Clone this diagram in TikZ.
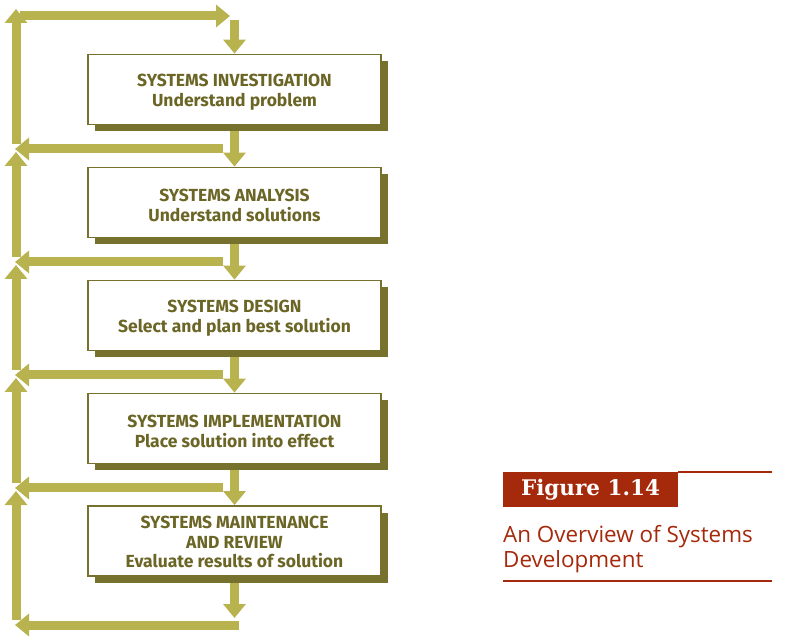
\documentclass[tikz,border=0pt]{standalone}
\usepackage{fontspec}
\newfontfamily\boxfont{Fira Sans}
\newfontfamily\capfont{Open Sans}
\newfontfamily\figfont{DejaVu Serif}
\usetikzlibrary{arrows.meta,shadows}
\definecolor{arrowol}{HTML}{B8B34F}
\definecolor{borderol}{HTML}{77712E}
\definecolor{shadowol}{HTML}{77712E}
\definecolor{textol}{HTML}{6B6526}
\definecolor{figred}{HTML}{A5290B}
\begin{document}
\begin{tikzpicture}[x=1pt,y=-1pt,
  fat/.style={draw=arrowol, line width=9pt, -{Triangle[width=22pt,length=14pt]}},
  stage/.style={draw=borderol, line width=1.8pt, fill=white, minimum width=293pt,
    minimum height=70pt, inner sep=2pt,
    drop shadow={shadow xshift=7pt, shadow yshift=-7pt, fill=shadowol, opacity=1}},
  stagetxt/.style={align=center, inner sep=0pt, text=textol,
    font=\boxfont\bfseries\fontsize{17.5}{20}\selectfont},
  rule/.style={draw=figred, line width=1.8pt}
]
\useasboundingbox (0,0) rectangle (796,644);

% stage boxes
\node[stage] (s1) at (234.5,89.5) {};
\node[stage] (s2) at (234.5,202.5) {};
\node[stage] (s3) at (234.5,315.5) {};
\node[stage] (s4) at (234.5,428.5) {};
\node[stage] (s5) at (234.5,541) {};
\node[stagetxt] (t1) at ([yshift=-3pt]s1.center) {SYSTEMS INVESTIGATION\\Understand problem};
\node[stagetxt] (t2) at ([yshift=-3pt]s2.center) {SYSTEMS ANALYSIS\\Understand solutions};
\node[stagetxt] (t3) at ([yshift=-3pt]s3.center) {SYSTEMS DESIGN\\Select and plan best solution};
\node[stagetxt] (t4) at ([yshift=-3pt]s4.center) {SYSTEMS IMPLEMENTATION\\Place solution into effect};
\node[stagetxt, font=\boxfont\bfseries\fontsize{17.5}{19.5}\selectfont] (t5) at ([yshift=-1pt]s5.center) {SYSTEMS MAINTENANCE\\AND REVIEW\\Evaluate results of solution};

% named coordinates for arrow ends
\coordinate (topL) at (20,16);
\coordinate (topR) at (230,16);
\coordinate (d0) at (234.5,20);
\coordinate (dEnd) at (234.5,618);
\coordinate (h1R) at (223,149); \coordinate (h1L) at (15,149);
\coordinate (h2R) at (223,262); \coordinate (h2L) at (15,262);
\coordinate (h3R) at (223,375); \coordinate (h3L) at (15,375);
\coordinate (h4R) at (223,488); \coordinate (h4L) at (15,488);
\coordinate (h5R) at (239,625); \coordinate (h5L) at (15,625);
\coordinate (v1B) at (16,144); \coordinate (v1T) at (16,9);
\coordinate (v2B) at (16,257); \coordinate (v2T) at (16,152);
\coordinate (v3B) at (16,370); \coordinate (v3T) at (16,265);
\coordinate (v4B) at (16,483); \coordinate (v4T) at (16,378);
\coordinate (v5B) at (16,620); \coordinate (v5T) at (16,491);

% forward arrows
\draw[fat] (topL) -- (topR);
\draw[fat] (d0) -- (s1.north);
\draw[fat] ([yshift=-6pt]s1.south) -- (s2.north);
\draw[fat] ([yshift=-6pt]s2.south) -- (s3.north);
\draw[fat] ([yshift=-6pt]s3.south) -- (s4.north);
\draw[fat] ([yshift=-6pt]s4.south) -- (s5.north);
\draw[fat] ([yshift=-6pt]s5.south) -- (dEnd);

% feedback arrows
\draw[fat] (h1R) -- (h1L);
\draw[fat] (h2R) -- (h2L);
\draw[fat] (h3R) -- (h3L);
\draw[fat] (h4R) -- (h4L);
\draw[fat] (h5R) -- (h5L);
\draw[fat] (v1B) -- (v1T);
\draw[fat] (v2B) -- (v2T);
\draw[fat] (v3B) -- (v3T);
\draw[fat] (v4B) -- (v4T);
\draw[fat] (v5B) -- (v5T);

% caption
\node[fill=figred, minimum width=175pt, minimum height=35pt, inner sep=0pt,
  text=white, font=\figfont\bfseries\fontsize{21.5}{22}\selectfont] (fig) at (590.5,489.5) {Figure 1.14};
\coordinate (ruleR) at (772,473);
\draw[rule] (fig.north east) -- (fig.north east -| ruleR);
\node[anchor=north west, align=left, inner sep=0pt, text=figred,
  font=\capfont\fontsize{22.4}{25.5}\selectfont] (cap) at (503,525) {An Overview of Systems\\Development};
\coordinate (botL) at (503,581);
\coordinate (botR) at (772,581);
\draw[rule] (botL) -- (botR);
\end{tikzpicture}
\end{document}
